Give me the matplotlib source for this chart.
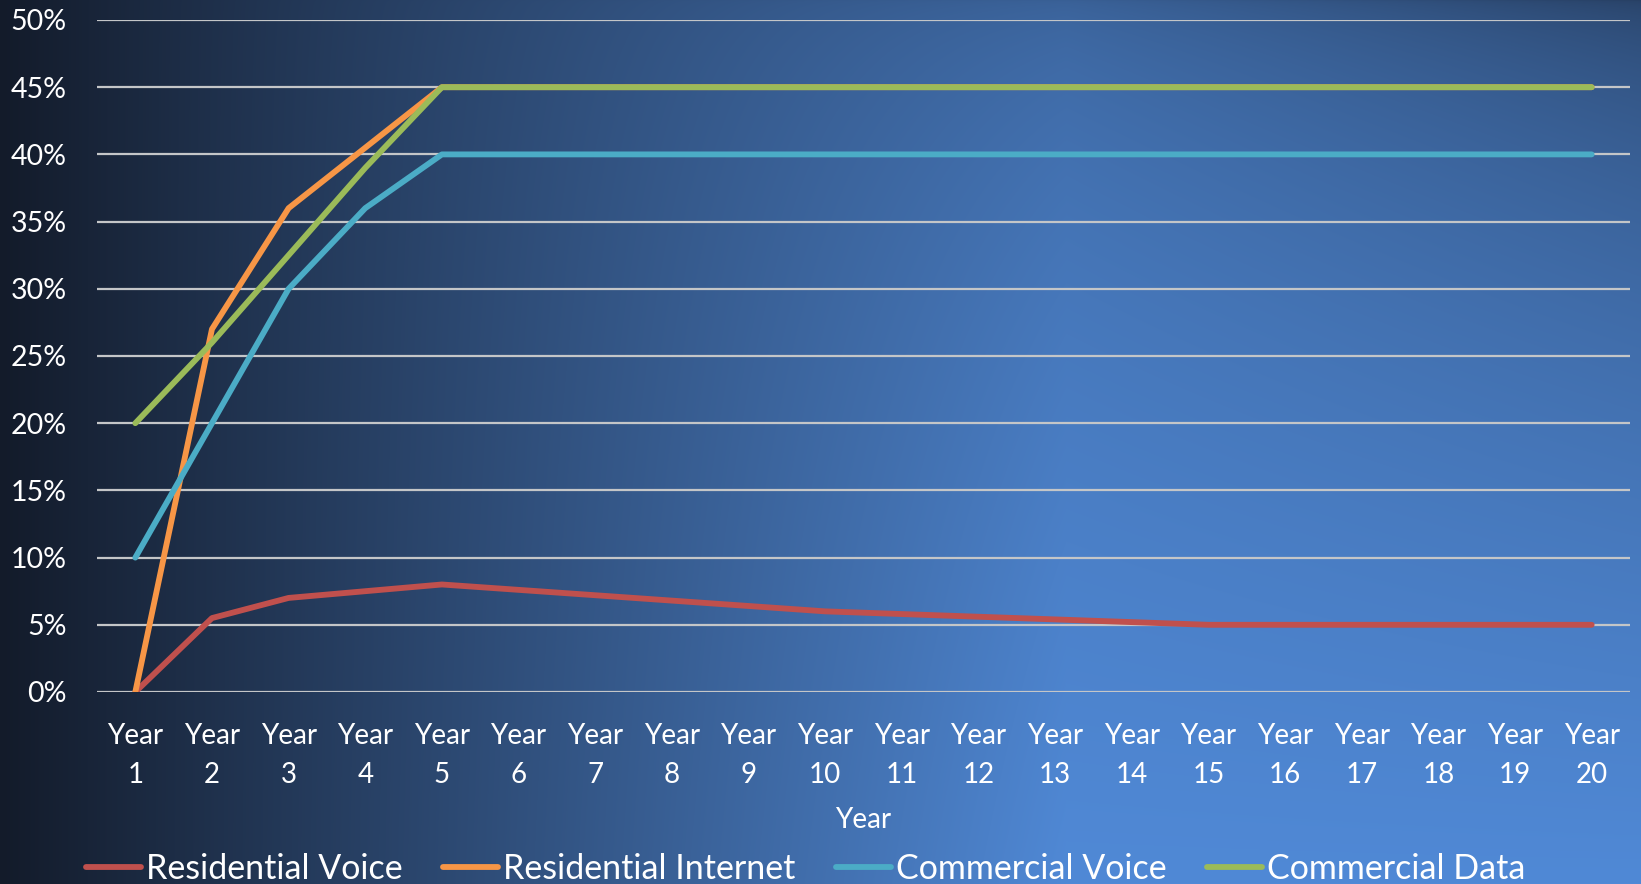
#!/usr/bin/env python3
"""
penetration_plot.py - market penetration by service over a 20 year horizon
"""

import numpy as np
import matplotlib
matplotlib.use("Agg")
import matplotlib.pyplot as plt

OUT_FILE = "out.png"

# Year index for the x axis
years = list(range(1, 21))
year_labels = [f"Year\n{y}" for y in years]

# Penetration (%) per service
residential_voice = [0, 5.5, 7, 7.5, 8, 7.6, 7.2, 6.8, 6.4, 6.0,
                     5.8, 5.6, 5.4, 5.2, 5, 5, 5, 5, 5, 5]
residential_internet = [0, 27, 36, 40.5, 45, 45, 45, 45, 45, 45,
                        45, 45, 45, 45, 45, 45, 45, 45, 45, 45]
commercial_voice = [10, 20, 30, 36, 40, 40, 40, 40, 40, 40,
                    40, 40, 40, 40, 40, 40, 40, 40, 40, 40]
commercial_data = [20, 26, 32.5, 39, 45, 45, 45, 45, 45, 45,
                   45, 45, 45, 45, 45, 45, 45, 45, 45, 45]

series_names = ["Residential Voice", "Residential Internet",
                "Commercial Voice", "Commercial Data"]
y_ticks = [0, 5, 10, 15, 20, 25, 30, 35, 40, 45, 50]

COLORS = ["#c0504d", "#f79646", "#4bacc6", "#9bbb59"]
FONT = ["Lato", "DejaVu Sans"]


def background(width, height):
    # dark navy on the left, brightening to the lower right
    u = np.linspace(0, 1, width)[None, :]
    v = np.linspace(0, 1, height)[:, None]
    ramp = np.clip(u / 0.65, 0, 1)
    s = 0.66 * u ** 1.3
    vert = 1 - s * (1 - np.sqrt(v))
    b = np.clip(ramp * vert, 0, 1)[..., None]
    dark = np.array([0x13, 0x1b, 0x2a]) / 255
    light = np.array([0x50, 0x89, 0xd6]) / 255
    return dark + b * (light - dark)


def main():
    plt.rcParams["font.family"] = FONT
    fig = plt.figure(figsize=(16.41, 8.84), dpi=100)

    bg = fig.add_axes([0, 0, 1, 1], zorder=0)
    bg.imshow(background(1641, 884), aspect="auto", interpolation="bilinear")
    bg.axis("off")

    ax = fig.add_axes([97 / 1641, 1 - 692 / 884, (1630 - 97) / 1641, 672 / 884], zorder=1)
    ax.set_facecolor("none")

    all_series = [residential_voice, residential_internet, commercial_voice, commercial_data]
    for vals, name, c in zip(all_series, series_names, COLORS):
        ax.plot(years, vals, color=c, lw=4.2, label=name,
                solid_capstyle="round", solid_joinstyle="round", zorder=3)

    ax.set_xlim(0.5, 20.5)
    ax.set_ylim(0, 50)
    ax.set_yticks(y_ticks)
    ax.set_yticklabels([f"{t}%" for t in y_ticks])
    ax.set_xticks(years)
    ax.set_xticklabels(year_labels, linespacing=1.6)

    ax.grid(axis="y", color="#c4c6c8", lw=1.6, zorder=1)
    ax.set_axisbelow(True)
    for sp in ax.spines.values():
        sp.set_visible(False)
    ax.tick_params(axis="x", length=0, pad=22.5, labelsize=20, colors="white")
    ax.tick_params(axis="y", length=0, pad=22, labelsize=20.5, colors="white")

    ax.set_xlabel("Year", fontsize=20, color="white", va="center")
    ax.xaxis.set_label_coords(0.5, -(820 - 692) / 672)

    fig.legend(loc="center left", bbox_to_anchor=(86 / 1641, 1 - 869 / 884),
               bbox_transform=fig.transFigure, ncol=4, frameon=False,
               fontsize=24.5, labelcolor="white", handlelength=1.62,
               handletextpad=0.15, columnspacing=1.18, borderpad=0,
               borderaxespad=0)

    fig.savefig(OUT_FILE, dpi=100)


if __name__ == "__main__":
    main()
